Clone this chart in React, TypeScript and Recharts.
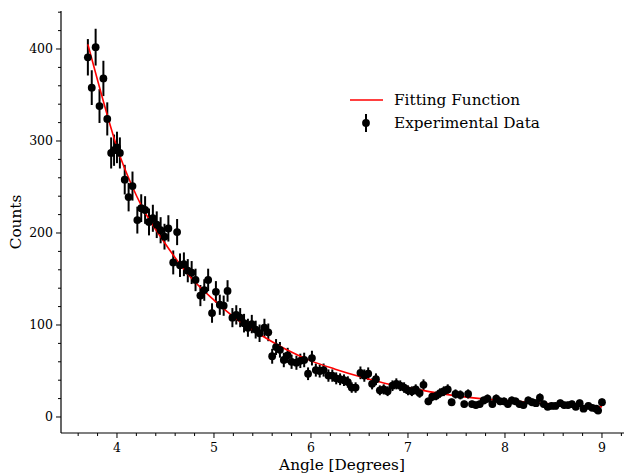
import React from 'react';
import { ComposedChart, Scatter, Line, XAxis, YAxis, ErrorBar } from 'recharts';

const W = 624;
const H = 476;
const PLOT_LEFT = 61;
const PLOT_TOP = 11;
const PLOT_BOTTOM = 433;
const FONT = '"DejaVu Serif", serif';

// measured angle (degrees) of each data point
const angles = [
  3.70, 3.74, 3.78, 3.82, 3.86, 3.90, 3.94, 3.97, 4.00, 4.03,
  4.08, 4.12, 4.16, 4.21, 4.25, 4.29, 4.33, 4.37, 4.41, 4.45,
  4.49, 4.53, 4.58, 4.62, 4.65, 4.69, 4.73, 4.77, 4.81, 4.86,
  4.90, 4.94, 4.98, 5.02, 5.06, 5.10, 5.14, 5.19, 5.23, 5.27,
  5.31, 5.35, 5.39, 5.43, 5.47, 5.52, 5.56, 5.60, 5.64, 5.68,
  5.72, 5.76, 5.80, 5.85, 5.89, 5.93, 5.97, 6.01, 6.05, 6.09,
  6.13, 6.18, 6.22, 6.26, 6.30, 6.34, 6.38, 6.42, 6.46, 6.51,
  6.55, 6.59, 6.63, 6.67, 6.71, 6.75, 6.79, 6.84, 6.88, 6.92,
  6.96, 7.00, 7.04, 7.08, 7.12, 7.16, 7.21, 7.25, 7.29, 7.33,
  7.37, 7.41, 7.45, 7.49, 7.54, 7.58, 7.62, 7.66, 7.70, 7.74,
  7.78, 7.82, 7.87, 7.91, 7.95, 7.99, 8.03, 8.07, 8.11, 8.15,
  8.19, 8.24, 8.28, 8.32, 8.36, 8.40, 8.44, 8.48, 8.52, 8.57,
  8.61, 8.65, 8.69, 8.73, 8.77, 8.81, 8.86, 8.90, 8.94, 8.96,
  9.00,
];

const counts = [
  391, 358, 402, 338, 368, 324, 287, 290, 293, 287,
  258, 239, 251, 214, 227, 225, 212, 216, 209, 203,
  196, 205, 168, 201, 165, 166, 159, 157, 149, 132,
  138, 149, 113, 136, 122, 121, 137, 108, 111, 108,
  102, 97, 101, 95, 91, 97, 92, 66, 76, 73,
  62, 67, 60, 59, 61, 62, 47, 64, 51, 50,
  51, 45, 45, 42, 41, 40, 38, 32, 32, 48,
  45, 47, 36, 41, 29, 30, 28, 34, 36, 34,
  32, 29, 28, 30, 26, 35, 17, 22, 23, 26,
  28, 30, 16, 25, 24, 14, 25, 14, 13, 14,
  18, 20, 14, 20, 17, 17, 14, 18, 17, 14,
  13, 18, 16, 15, 21, 14, 11, 12, 12, 15,
  13, 13, 14, 11, 15, 9, 12, 10, 9, 7,
  16,
];

const errors = [
  19.8, 18.9, 20.0, 18.4, 19.2, 18.0, 16.9, 17.0, 17.1, 16.9,
  16.1, 15.5, 15.8, 14.6, 15.1, 15.0, 14.6, 14.7, 14.5, 14.2,
  14.0, 14.3, 13.0, 14.2, 12.8, 12.9, 12.6, 12.5, 12.2, 11.5,
  11.7, 12.2, 10.6, 11.7, 11.0, 11.0, 11.7, 10.4, 10.5, 10.4,
  10.1, 9.8, 10.0, 9.7, 9.5, 9.8, 9.6, 8.1, 8.7, 8.5,
  7.9, 8.2, 7.7, 7.7, 7.8, 7.9, 6.9, 8.0, 7.1, 7.1,
  7.1, 6.7, 6.7, 6.5, 6.4, 6.3, 6.2, 5.7, 5.7, 6.9,
  6.7, 6.9, 6.0, 6.4, 5.4, 5.5, 5.3, 5.8, 6.0, 5.8,
  5.7, 5.4, 5.3, 5.5, 5.1, 5.9, 4.1, 4.7, 4.8, 5.1,
  5.3, 5.5, 4.0, 5.0, 4.9, 3.7, 5.0, 3.7, 3.6, 3.7,
  4.2, 4.5, 3.7, 4.5, 4.1, 4.1, 3.7, 4.2, 4.1, 3.7,
  3.6, 4.2, 4.0, 3.9, 4.6, 3.7, 3.3, 3.5, 3.5, 3.9,
  3.6, 3.6, 3.7, 3.3, 3.9, 3.0, 3.5, 3.2, 3.0, 2.6,
  4.0,
];

// fitted curve, sampled
const fitAngles = [3.70, 3.80, 3.90, 4.00, 4.16, 4.25, 4.50, 4.75, 5.00, 5.25, 5.50, 5.75, 6.00, 6.25, 6.50, 6.75, 7.00, 7.25, 7.50, 7.75, 8.00, 8.25, 8.50, 8.75, 9.00];
const fitCounts = [405, 366, 328, 293, 250, 230, 188, 153, 127, 105, 88, 73, 61, 52, 44, 37, 32, 27, 23, 20, 18, 16, 14, 12.5, 11];

const xTicks = [3.6, 3.8, 4, 4.2, 4.4, 4.6, 4.8, 5, 5.2, 5.4, 5.6, 5.8, 6, 6.2, 6.4, 6.6, 6.8, 7, 7.2, 7.4, 7.6, 7.8, 8, 8.2, 8.4, 8.6, 8.8, 9, 9.2];
const yTicks = [0, 20, 40, 60, 80, 100, 120, 140, 160, 180, 200, 220, 240, 260, 280, 300, 320, 340, 360, 380, 400, 420, 440];

const points = angles.map((x, i) => ({ x, y: counts[i], err: errors[i] }));
const fit = fitAngles.map((x, i) => ({ x, y: fitCounts[i] }));

const isMajor = (v: number, step: number) => Math.abs(v / step - Math.round(v / step)) < 1e-6;

const XTick = (props: any) => {
  const { x, payload } = props;
  const major = isMajor(payload.value, 1);
  return (
    <g>
      <line x1={x} x2={x} y1={PLOT_BOTTOM} y2={PLOT_BOTTOM + (major ? 5 : 3)} stroke="#000" strokeWidth={1} />
      {major && (
        <text x={x} y={PLOT_BOTTOM + 19} textAnchor="middle" fontSize={12.5} fontFamily={FONT} fill="#000">
          {payload.value}
        </text>
      )}
    </g>
  );
};

const YTick = (props: any) => {
  const { y, payload } = props;
  const major = isMajor(payload.value, 100);
  return (
    <g>
      <line x1={PLOT_LEFT} x2={PLOT_LEFT - (major ? 5 : 3)} y1={y} y2={y} stroke="#000" strokeWidth={1} />
      {major && (
        <text x={PLOT_LEFT - 8} y={y + 4.5} textAnchor="end" fontSize={12.5} fontFamily={FONT} fill="#000">
          {payload.value}
        </text>
      )}
    </g>
  );
};

const Dot = (props: any) => {
  const { cx, cy } = props;
  return <circle cx={cx} cy={cy} r={3.9} fill="#000" />;
};

export default function App() {
  return (
    <div style={{ position: 'absolute', left: 0, top: 0, width: W, height: H, background: '#fff' }}>
      <ComposedChart width={W} height={H} margin={{ top: PLOT_TOP, right: 0, bottom: 0, left: 0 }}>
        <XAxis
          xAxisId="top"
          orientation="top"
          type="number"
          dataKey="x"
          domain={[3.423, 9.227]}
          height={0}
          tick={false}
          tickLine={false}
          axisLine={{ stroke: '#000', strokeWidth: 1.2 }}
        />
        <XAxis
          type="number"
          dataKey="x"
          domain={[3.423, 9.227]}
          ticks={xTicks}
          interval={0}
          height={H - PLOT_BOTTOM}
          tickLine={false}
          tick={<XTick />}
          axisLine={{ stroke: '#000', strokeWidth: 1.2 }}
          allowDataOverflow
        />
        <YAxis
          type="number"
          dataKey="y"
          domain={[-17.4, 441.3]}
          ticks={yTicks}
          interval={0}
          width={PLOT_LEFT}
          tickLine={false}
          tick={<YTick />}
          axisLine={{ stroke: '#000', strokeWidth: 1.2 }}
          allowDataOverflow
        />
        <Scatter data={points} dataKey="y" fill="#000" shape={<Dot />} isAnimationActive={false}>
          <ErrorBar dataKey="err" direction="y" width={0} stroke="#000" strokeWidth={2} />
        </Scatter>
        <Line
          data={fit}
          dataKey="y"
          type="monotone"
          stroke="#ff0000"
          strokeWidth={1.6}
          dot={false}
          activeDot={false}
          isAnimationActive={false}
        />
      </ComposedChart>
      <svg width={W} height={H} style={{ position: 'absolute', left: 0, top: 0, pointerEvents: 'none' }}>
        <text
          x={21}
          y={222}
          transform="rotate(-90 21 222)"
          textAnchor="middle"
          fontSize={15.3}
          fontFamily={FONT}
          fill="#000"
        >
          Counts
        </text>
        <text x={342} y={470} textAnchor="middle" fontSize={15.3} fontFamily={FONT} fill="#000">
          Angle [Degrees]
        </text>
        <line x1={350} x2={383} y1={100} y2={100} stroke="#ff0000" strokeWidth={1.6} />
        <text x={394} y={105} fontSize={15.3} fontFamily={FONT} fill="#000">
          Fitting Function
        </text>
        <line x1={366} x2={366} y1={114} y2={132} stroke="#000" strokeWidth={2} />
        <circle cx={366} cy={123} r={3.9} fill="#000" />
        <text x={394} y={128} fontSize={15.3} fontFamily={FONT} fill="#000">
          Experimental Data
        </text>
      </svg>
    </div>
  );
}
